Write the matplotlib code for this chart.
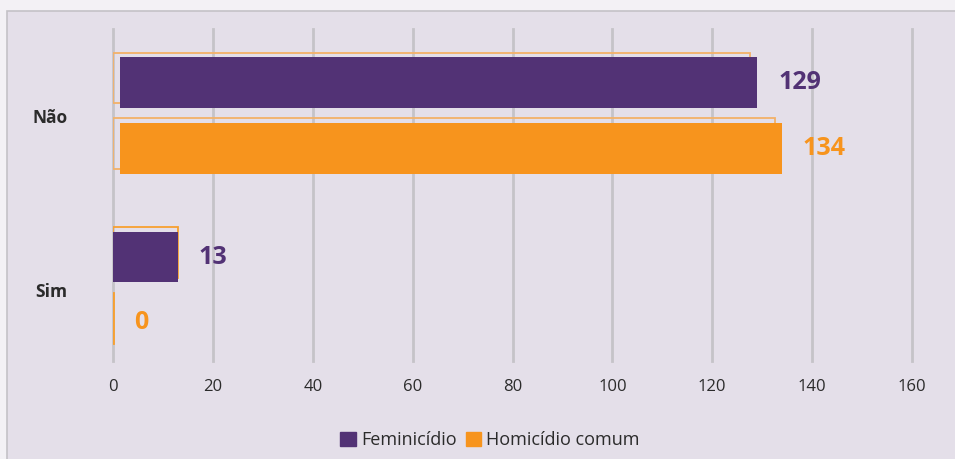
import matplotlib.pyplot as plt
from matplotlib.patches import Rectangle, Patch

categorias = ['Não', 'Sim']
feminicidio = [129, 13]
homicidio = [134, 0]
series = ['Feminicídio', 'Homicídio comum']

roxo = '#523275'
laranja = '#f7941d'
texto = '#2b2b2b'

plt.rcParams['font.family'] = ['Open Sans', 'DejaVu Sans']

fig = plt.figure(figsize=(9.55, 4.59), dpi=100)
fig.patch.set_facecolor('#f3f1f5')
# painel de fundo
fig.patches.append(Rectangle((7 / 955, -0.01), 1.0, 1 - 11 / 459 + 0.01,
                             transform=fig.transFigure, facecolor='#e4dfe9',
                             edgecolor='#c4c2c7', linewidth=1.2, zorder=-10))

ax = fig.add_axes([113 / 955, 1 - 361 / 459, (912 - 113) / 955, 332 / 459])
ax.set_facecolor('none')

ypos = [1, 0]
desloc = 0.189
altura = 0.292
sombra = [1.5, 0]  # deslocamento horizontal do efeito de sombra
cor_contorno = ['#f3b168', '#f7a030']

for i, y in enumerate(ypos):
    for val, dy, cor in [(feminicidio[i], desloc, roxo), (homicidio[i], -desloc, laranja)]:
        # contorno (sombra), atrás da barra
        ax.barh(y + dy + 0.026, max(val - sombra[i], 0.25), height=altura, left=0,
                facecolor='none', edgecolor=cor_contorno[i], linewidth=1.3, zorder=2)
        ax.barh(y + dy, val - sombra[i], height=altura, left=sombra[i],
                color=cor, zorder=3)
        ax.annotate(str(val), (val, y + dy), xytext=(15, 0), textcoords='offset points',
                    ha='left', va='center', color=cor, fontsize=18, fontweight='bold')

ax.set_xlim(0, 160)
ax.set_ylim(-0.407, 1.496)
ax.set_xticks(range(0, 161, 20))
ax.set_yticks(ypos)
ax.set_yticklabels(categorias, fontweight='bold', fontsize=12.5)
ax.tick_params(axis='y', length=0, pad=33, colors=texto)
ax.tick_params(axis='x', length=0, pad=13, labelsize=12, colors=texto)
ax.grid(axis='x', color='#c5c3c8', linewidth=2, zorder=1)
ax.set_axisbelow(True)
for linha in ax.get_xgridlines():
    linha.set_clip_on(False)
for s in ax.spines.values():
    s.set_visible(False)

handles = [Patch(color=roxo), Patch(color=laranja)]
fig.legend(handles, series, loc='center', bbox_to_anchor=(490 / 955, 1 - 440 / 459),
           ncol=2, frameon=False, fontsize=13, handlelength=0.85, handleheight=0.85,
           handletextpad=0.3, columnspacing=0.5, labelcolor=texto)

fig.savefig('out.png', dpi=100, facecolor=fig.get_facecolor())
